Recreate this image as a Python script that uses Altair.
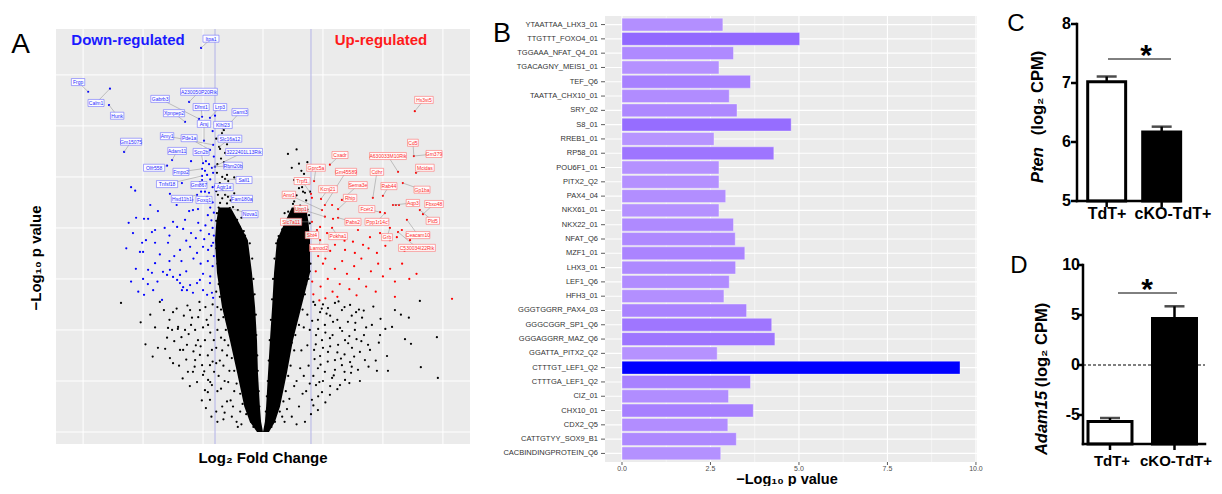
import altair as alt
import pandas as pd

FONT = "Liberation Sans, Arial, sans-serif"
NARROW = "Liberation Sans Narrow, Liberation Sans, Arial, sans-serif"
W, H = 1206, 478

# ================= Panel A : volcano plot =================
# dense core of the V (two arms): -log10 p levels and log2FC bounds
arm_p = [0.0, 2.0, 5.0, 11.6, 18.0, 24.5, 31.2, 37.6, 41.0, 44.0]
arm_left_a = [-0.25, -0.55, -0.78, -1.08, -1.38, -1.71, -1.92, -2.0, -1.95, -1.85]
arm_left_b = [0.0, -0.08, -0.13, -0.21, -0.25, -0.33, -0.46, -0.63, -1.0, -1.35]
arm_right_a = [0.0, 0.08, 0.13, 0.21, 0.29, 0.38, 0.46, 0.58, 0.9, 1.2]
arm_right_b = [0.25, 0.5, 0.71, 1.0, 1.25, 1.6, 1.96, 1.96, 1.9, 1.8]

A_thresholds = [-2.0, 2.0]
A_xgrid = [-7.5, -5.0, -2.5, 0.0, 2.5, 5.0, 7.5]
A_ygrid = [0, 10, 20, 30, 40, 50, 60, 70]

blue_pts = [(-2.58,75.3),(-7.29,66.7),(-6.38,67.3),(-6.42,64.1),(-5.79,54.9),(-5.5,48.0),(-5.33,47.3),
    (-3.38,48.8),(-3.25,60.8),(-3.08,64.7),(-2.67,61.4),(-2.54,61.8),(-2.46,57.1),(-2.21,61.6),(-2.08,56.3),
    (-2.21,55.3),(-2.54,51.6),(-3.0,53.1),(-2.38,53.1),(-2.25,52.5),(-2.13,51.8),(-4.0,52.2),(-3.79,53.3),
    (-2.5,52.7),(-3.88,46.7),(-2.42,51.2),(-2.33,50.4),(-2.08,50.8),(-2.63,49.0),(-2.54,50.2),(-2.54,49.4),
    (-2.25,46.9),(-2.42,47.1),(-2.58,47.1),(-2.75,46.5),(-2.33,46.1),(-2.0,52.0),(-2.0,48.2),
    (-5.29,42.0),(-4.96,41.8),(-4.79,41.8),(-4.38,43.3),(-3.08,43.3),(-2.92,43.5),(-2.71,43.7),(-5.42,39.0),
    (-4.88,37.6),(-5.04,37.1),(-4.63,39.2),(-4.5,39.6),(-3.75,41.2),(-3.58,40.2),(-3.25,41.6),(-3.33,39.8),
    (-5.0,35.3),(-4.79,31.8),(-4.63,31.2),(-4.5,33.1),(-4.96,26.9),(-4.58,27.8),(-4.21,25.9),(-4.17,31.4),
    (-4.0,30.8),(-3.88,31.8),(-3.75,30.4),(-3.58,29.8),(-3.46,30.8),(-3.46,29.2),(-3.33,28.4),(-3.38,27.8),
    (-3.17,27.8),(-3.04,28.8),(-2.92,27.3),(-2.75,29.2),(-2.63,29.8),(-2.5,27.8),(-2.33,26.9),(-2.21,29.2),
    (-2.13,27.3),(-2.08,26.3),(-5.13,35.3),(-4.5,37.1),(-3.96,37.1),(-3.46,35.7),(-3.04,36.3),(-2.75,35.1),
    (-2.5,36.3),(-2.29,35.7),(-2.08,37.1),(-2.1,45.0),(-2.2,44.0),(-2.05,43.0),(-2.3,42.5),(-2.15,41.5),
    (-2.4,40.5),(-2.1,40.0),(-2.6,39.5),(-2.25,38.8),(-2.05,38.5),(-2.8,38.0),(-2.45,37.8),(-3.0,39.0),
    (-3.2,37.5),(-2.9,34.0),(-2.6,33.0),(-2.3,33.5),(-2.1,32.5),(-3.4,33.5),(-3.7,34.5),(-3.9,33.5),
    (-4.3,34.8),(-4.4,29.5),(-3.2,31.5),(-2.5,31.0),(-2.2,30.5),(-2.05,34.5),(-2.15,36.5),(-2.7,41.0),
    (-2.95,45.5),(-2.35,46.0),(-2.1,48.0),(-2.5,48.5),(-2.2,49.5),(-3.6,44.5),(-4.1,40.0),(-3.9,38.5),
    (-5.7,36.0),(-5.6,41.0),(-4.7,44.5),(-2.05,54.0),(-2.3,55.0),(-2.1,59.0),(-2.0,62.0),(-5.3,32.0),
    (-5.5,29.5),(-4.8,29.0),(-5.2,27.5),(-5.0,30.0)]

red_pts = [(2.79,52.4),(2.13,49.2),(6.29,54.1),(5.63,51.0),(6.38,50.8),(5.83,48.8),(5.0,46.3),(4.58,45.9),
    (2.04,45.9),(2.42,45.7),(3.29,45.5),(5.42,44.5),(5.54,44.5),(5.67,44.5),(6.67,42.7),(3.13,43.7),
    (2.46,43.5),(2.88,44.5),(4.38,43.9),(2.58,42.2),(2.92,41.8),(5.21,41.4),(6.0,41.6),(2.04,41.2),
    (2.25,39.6),(2.88,40.0),(2.38,40.2),(2.67,39.0),(3.5,40.8),(3.96,39.6),(4.46,38.2),(4.17,36.7),
    (4.88,39.0),(5.29,37.6),(5.79,39.6),(6.13,37.6),(2.38,37.6),(3.0,36.7),(3.42,35.7),(3.83,35.1),
    (4.75,35.1),(5.58,38.2),(3.75,37.3),(3.08,38.2),(6.33,62.9),(2.58,44.5),(2.0,46.7),(4.88,43.1),
    (3.13,42.0),(5.08,42.9),(6.54,43.5),(5.29,40.0),(5.63,39.2),
    (2.1,36.0),(2.3,34.5),(2.5,33.0),(2.2,31.5),(2.7,30.0),(2.4,28.5),(2.9,27.5),(2.1,27.0),(3.2,29.0),
    (3.5,31.0),(3.3,33.5),(3.8,32.5),(4.0,30.0),(3.6,28.0),(4.3,28.5),(4.5,31.5),(4.1,34.0),(4.8,33.0),
    (5.0,30.5),(5.3,32.0),(4.7,27.5),(5.5,29.5),(5.8,33.0),(5.9,35.5),(6.1,30.0),(3.1,26.5),(2.6,26.2),
    (3.9,26.8),(4.4,36.0),(5.1,36.5),(2.8,35.5),(3.4,37.5),(2.2,38.5),(2.6,34.0),(3.0,32.0),(2.05,29.5),
    (7.88,26.1),(6.4,31.0),(5.5,26.5),(2.35,25.8)]

black_pts = [(-5.92,25.3),(-4.38,16.5),(-4.08,16.3),(-3.88,14.5),(-3.75,13.5),(-3.46,16.1),(-3.33,16.1),
    (-4.13,23.9),(-3.75,23.5),(-3.96,20.4),(-3.79,20.0),(-3.54,20.6),(-3.04,23.9),(-2.96,22.4),(-2.83,20.0),
    (-2.71,18.0),(-2.63,15.1),(-2.92,11.8),(-2.5,11.2),(-2.42,8.2),(-2.29,10.2),(-2.21,6.3),(-2.38,4.7),
    (-2.13,9.2),(-3.25,20.0),(-3.17,17.1),(-2.42,18.0),(-2.29,21.0),(-2.17,22.9),(-2.63,23.9),(-2.13,16.1),
    (-2.21,13.1),(-2.54,13.1),(-2.83,14.1),(-3.13,11.8),(-2.04,11.8),
    (-2.1,25.0),(-2.4,24.5),(-2.7,22.5),(-3.0,21.0),(-3.3,22.8),(-3.6,24.2),(-3.9,22.0),(-4.3,25.5),
    (-2.2,19.5),(-2.5,20.5),(-2.8,17.0),(-3.1,19.2),(-3.4,18.6),(-3.7,17.8),(-4.0,18.5),(-4.5,20.5),
    (-2.3,15.0),(-2.6,16.8),(-2.9,15.8),(-3.2,14.2),(-3.5,13.0),(-2.1,13.8),(-2.45,11.9),(-2.75,9.8),
    (-3.05,9.0),(-2.3,7.8),(-2.55,6.2),(-2.15,3.0),(-2.85,12.8),(-3.35,10.5),(-4.6,14.8),(-4.9,17.2),
    (-5.1,21.5),(-4.7,23.0),(-2.05,18.0),(-2.35,22.0),(-2.65,25.5),(-3.15,24.8),(-3.55,20.2),(-2.2,9.8),
    (-1.9,20.0),(-1.8,14.0),(-1.6,10.0),(-1.5,6.0),(-1.7,5.0),(-1.3,3.0),(-1.2,8.0),(-1.5,15.0),(-1.9,8.0),
    (-1.95,4.0),(-1.6,18.0),(-1.75,24.0),(-1.1,2.0),(-0.9,1.5),(-1.4,12.0),(-1.65,2.5),(-1.85,11.0),
    (-1.95,27.5),(-1.9,24.5),(-1.85,22.0),(-1.75,18.5),(-1.95,16.5),(-1.7,16.0),(-1.65,13.0),(-1.95,13.5),
    (-1.45,9.8),(-1.75,8.5),(-1.35,6.2),(-1.6,3.8),(-1.9,2.0),(-0.95,4.0),(-1.25,5.0),(-1.05,1.0),
    (-1.95,36.0),(-1.9,33.0),(-1.85,29.0),(-1.8,26.5),(-1.65,22.5),(-1.55,20.0),(-1.45,17.0),(-1.3,14.5),
    (-1.2,12.0),(-1.1,9.5),(-0.95,7.5),(-0.85,5.5),(-0.7,3.5),(-0.5,2.0),(-0.4,1.0),
    (-0.55,37.0),(-0.45,34.0),(-0.4,30.0),(-0.35,27.0),(-0.3,23.0),(-0.28,19.0),(-0.24,15.0),(-0.22,12.0),
    (-0.18,8.0),(-0.15,5.0),
    (-1.63,59.2),(-1.58,49.6),(-1.38,43.9),(-1.79,55.5),(-1.58,54.7),(-1.63,52.9),(-1.5,50.4),(-1.92,50.8),
    (-1.33,48.2),(-1.67,47.5),(-1.88,46.5),(-1.46,46.1),(-1.79,44.9),(-1.25,44.1),(-1.58,43.1),(-1.92,42.9),
    (-1.38,42.2),(-1.71,41.6),(-1.08,41.6),(-1.5,40.6),(-1.88,40.2),(-1.25,40.0),(-0.96,40.2),(-1.71,58.6),
    (-1.83,55.9),(-1.58,46.5),(-0.75,38.5),(-1.1,39.0),(-0.85,36.5),
    (-1.9,38.0),(-1.6,38.2),(-1.3,38.6),(-1.0,37.8),(-1.75,39.3),(-1.45,39.6),(-1.15,40.9),(-1.95,41.4),
    (-1.6,42.4),(-1.3,43.0),(-1.05,43.5),(-1.85,44.0),(-1.5,44.8),(-1.7,45.8),(-1.35,45.4),(-1.95,47.2),
    (-1.55,47.6),(-1.2,46.8),(-1.8,48.8),(-1.45,49.2),(-1.7,50.0),(-1.9,52.5),(-1.4,51.8),(-1.75,53.6),
    (-1.5,56.4),(-1.95,57.5),(-1.2,49.9),(-0.9,42.0),(-0.8,39.4),
    (1.04,54.5),(1.71,50.6),(1.67,47.1),(1.25,44.7),(1.58,42.9),(1.13,41.6),(1.75,41.0),(1.42,39.2),
    (0.83,37.6),(0.63,36.1),(1.04,36.7),(1.6,51.2),(1.63,48.0),(1.96,47.1),(1.3,45.2),(1.92,42.5),
    (1.5,43.8),(1.33,40.6),(1.79,40.2),(1.0,39.0),(1.5,38.5),(0.75,38.3),(1.13,37.1),(1.67,37.3),
    (0.7,36.8),(0.9,39.8),
    (0.65,38.4),(0.95,38.2),(1.25,38.6),(1.6,38.2),(1.9,38.8),(0.8,39.7),(1.15,39.4),(1.7,39.6),
    (0.95,40.8),(1.45,40.4),(1.95,40.9),(1.2,41.0),(1.65,42.0),(1.35,42.6),(1.85,43.6),(1.05,43.2),
    (1.55,44.4),(1.8,45.4),(1.4,46.4),(1.15,46.2),(1.75,46.9),(1.5,47.8),(1.9,48.8),(1.3,49.4),
    (1.75,49.5),(1.5,52.6),(1.2,51.8),(1.85,52.9),(1.4,55.4),(0.9,42.9),
    (0.55,37.0),(0.48,34.0),(0.42,30.0),(0.38,26.0),(0.33,22.0),(0.28,18.0),(0.24,14.0),(0.2,10.0),
    (0.16,7.0),(0.12,4.0),
    (2.0,36.0),(1.98,33.0),(1.9,30.0),(1.75,27.0),(1.65,24.0),(1.5,21.0),(1.35,19.0),(1.3,16.0),
    (1.15,13.0),(1.05,11.0),(0.95,8.0),(0.85,6.0),(0.7,4.0),(0.5,2.0),(0.35,1.0),
    (1.2,3.0),(1.5,5.0),(1.8,8.0),(1.4,10.0),(1.9,13.0),(1.6,16.0),(1.95,20.0),(1.75,2.0),(2.0,3.5),
    (1.1,6.5),(0.9,2.0),(1.7,11.0),(1.85,23.0),
    (1.0,15.5),(1.2,17.5),(1.45,23.5),(1.6,26.5),(1.8,29.0),(1.95,31.5),(1.85,34.5),(1.7,20.5),
    (1.85,17.0),(1.55,12.5),(1.3,9.0),(1.65,7.5),(1.95,9.5),(1.0,4.5),(1.4,1.5),(0.8,3.0),
    (2.17,24.9),(2.38,23.5),(2.71,24.3),(3.0,25.3),(3.29,23.9),(3.63,24.9),(3.88,23.5),(4.13,22.4),
    (2.29,22.0),(2.58,21.0),(2.92,21.6),(3.21,20.4),(3.54,21.6),(3.83,20.0),(4.21,19.0),(2.21,19.0),
    (2.46,18.0),(2.79,18.4),(3.13,17.1),(3.42,18.0),(3.71,16.5),(4.04,15.7),(4.38,17.1),(2.13,16.1),
    (2.38,14.9),(2.71,15.7),(3.0,14.1),(3.29,13.1),(3.63,13.7),(3.96,12.2),(2.29,12.5),(2.58,11.8),
    (2.88,10.6),(3.21,9.2),(2.21,9.2),(2.46,7.8),(2.79,7.3),(3.42,10.2),(2.04,6.3),(2.29,4.3),
    (4.25,14.1),(4.54,21.0),(4.46,16.1),(4.88,19.0),
    (2.1,25.5),(2.5,25.0),(2.8,22.8),(3.1,22.0),(3.4,24.5),(3.7,22.8),(4.0,24.0),(2.3,20.2),(2.6,19.5),
    (2.9,19.0),(3.3,19.8),(3.6,18.8),(3.9,18.2),(4.3,20.5),(2.2,17.2),(2.5,16.5),(2.8,16.8),(3.1,15.6),
    (3.4,15.2),(3.8,14.8),(4.1,17.8),(2.4,13.2),(2.7,13.8),(3.0,12.2),(3.4,11.8),(3.7,12.8),(2.1,11.0),
    (2.5,10.0),(2.8,9.0),(3.1,8.4),(2.3,7.0),(2.6,5.8),(2.1,5.2),(3.6,9.6),(4.4,12.8),(4.7,14.0),
    (4.2,23.8),(4.6,24.6),(4.9,22.2),(5.1,20.2),(2.05,21.8),(2.15,14.3),(2.35,9.8),(2.95,11.1),
    (3.25,14.4),(3.55,17.4),(3.85,21.4),(2.65,23.2),(3.15,25.6),(2.45,24.2),
    (6.54,25.7),(7.25,18.6),(6.58,12.7),(7.29,10.6),(6.08,22.4),(5.92,18.2),(6.17,17.3),(5.17,14.9),
    (4.83,17.5),(5.21,12.0),(4.75,12.0),(5.75,23.0),(5.5,23.9),(5.38,20.6),(4.04,10.0),(3.67,11.6)]

blue_labels = ["Itpa1","Frgp","Calm1","Hunk","Gm15075","Gabrb3","A230050P20Rik","Dfmt1","Lrp3","Gamt3",
    "Xpnpep2","Arsj","Klhl23","Amy1","Pde1a","Slc16a12","Adam11","Scn2b","3222401L13Rik","Olfr558",
    "Rbm20b","Fmpo2","Sall1","Tnfsf18","Gm867","Agtr1a","Hsd11b1","Foxq1","Fam180a","Nova1"]
blue_lab_fc = [-2.17,-7.71,-6.96,-6.08,-5.5,-4.29,-2.67,-2.58,-1.79,-0.96,-3.71,-2.46,-1.67,-4.0,-3.08,
    -1.38,-3.58,-2.58,-0.79,-4.54,-1.25,-3.42,-0.79,-4.0,-2.67,-1.63,-3.38,-2.46,-0.88,-0.54]
blue_lab_p = [77.1,68.6,64.5,62.0,56.9,65.3,66.7,63.7,63.7,62.7,62.5,60.4,60.2,58.0,57.6,57.5,55.1,54.9,
    54.9,51.8,52.2,51.0,49.4,48.6,48.4,48.0,45.7,45.5,45.7,42.7]
blue_gene_fc = [-2.58,-7.29,-6.38,-6.42,-5.79,-2.67,-3.08,-2.54,-2.21,-1.63,-3.25,-2.46,-1.71,-2.08,-2.21,
    -1.83,-3.79,-2.5,-2.13,-4.0,-2.0,-2.54,-1.58,-2.54,-2.54,-2.0,-2.75,-2.33,-1.58,-1.38]
blue_gene_p = [75.3,66.7,67.3,64.1,54.9,61.4,64.7,61.8,61.6,59.2,60.8,57.1,58.6,56.3,55.3,55.9,53.3,52.7,
    51.8,52.2,52.0,51.6,49.6,50.2,49.4,48.2,46.5,46.1,46.5,43.9]

red_labels = ["Hs3st5","Cd5","Gm379","A630033M10Rik","Cxadr","Gprc5a","Gm45589","Cdhr","Mcidas","Trpf1",
    "Sema3e","Kcnj21","Rab44","Gp1ba","Amr1","Rhip","Aqp3","Fbxo48","Upp1","Fcer2","Pabs2","Ppp1r14c",
    "Pld5","Slc7a11","Sbt4","Pokha1","Grb","Ceacam10","Lamod2","C530034I22Rik"]
red_lab_fc = [6.71,6.25,7.13,5.21,3.21,2.21,3.46,4.75,6.75,1.63,3.96,2.71,5.25,6.63,1.08,3.63,6.25,7.13,
    1.58,4.33,3.75,4.75,7.08,1.17,2.04,3.13,5.17,6.46,2.33,6.42]
red_lab_p = [65.1,56.7,54.5,54.1,54.3,51.8,51.0,51.0,51.8,49.2,48.4,47.6,48.2,47.5,46.5,45.9,44.9,44.7,
    43.7,43.7,41.2,41.2,41.4,41.2,38.6,38.4,38.2,38.6,36.1,36.1]
red_gene_fc = [6.33,6.29,6.29,5.63,2.79,2.13,2.58,4.58,6.38,2.0,3.29,2.42,5.0,5.83,2.46,3.13,5.42,6.67,
    2.58,4.88,3.13,5.08,6.54,2.04,2.25,2.88,5.29,6.0,2.38,5.63]
red_gene_p = [62.9,54.1,54.1,51.0,52.4,49.2,44.5,45.9,50.8,46.7,45.5,45.7,46.3,48.8,43.5,43.7,44.5,42.7,
    42.2,43.1,42.0,42.9,43.5,41.2,39.6,40.0,40.0,41.6,37.6,39.2]

# ================= Panel B : TF motif enrichment =================
tf_names = ["YTAATTAA_LHX3_01","TTGTTT_FOXO4_01","TGGAAA_NFAT_Q4_01","TGACAGNY_MEIS1_01","TEF_Q6",
    "TAATTA_CHX10_01","SRY_02","S8_01","RREB1_01","RP58_01","POU6F1_01","PITX2_Q2","PAX4_04","NKX61_01",
    "NKX22_01","NFAT_Q6","MZF1_01","LHX3_01","LEF1_Q6","HFH3_01","GGGTGGRR_PAX4_03","GGGCGGR_SP1_Q6",
    "GGGAGGRR_MAZ_Q6","GGATTA_PITX2_Q2","CTTTGT_LEF1_Q2","CTTTGA_LEF1_Q2","CIZ_01","CHX10_01","CDX2_Q5",
    "CATTGTYY_SOX9_B1","CACBINDINGPROTEIN_Q6"]
tf_logp = [2.85,5.02,3.15,2.74,3.63,3.03,3.25,4.78,2.60,4.29,2.74,2.74,2.93,2.74,3.15,3.20,3.47,3.21,
    3.03,2.88,3.52,4.23,4.32,2.69,9.55,3.63,3.01,3.71,2.99,3.23,2.79]
b_ticks = [0.0, 2.5, 5.0, 7.5, 10.0]
b_tick_labels = ["0.0", "2.5", "5.0", "7.5", "10.0"]
b_minor = [1.25, 3.75, 6.25, 8.75]

# ================= Panels C, D : bar charts =================
groups = ["TdT+", "cKO-TdT+"]
pten_mean = [7.02, 6.17]
pten_sem = [0.09, 0.09]
adam15_mean = [-5.64, 4.65]
adam15_sem = [0.34, 1.22]
c_ticks = [5, 6, 7, 8]
d_ticks = [-5, 0, 5, 10]

# ---------------------------------------------------------------
one = pd.DataFrame({"k": [0]})


def pv(v):
    return alt.value(v - 8)


def text(s, x, y, size, color="black", weight="normal", style="normal", angle=0,
         align="center", baseline="alphabetic", font=FONT):
    kw = dict(text=s, fontSize=size, color=color, fontWeight=weight, fontStyle=style,
              align=align, baseline=baseline, font=font)
    if angle:
        kw["angle"] = angle
    return alt.Chart(one).mark_text(**kw).encode(x=pv(x), y=pv(y))


def prect(x, y, x2, y2, color):
    return alt.Chart(one).mark_rect(color=color).encode(x=pv(x), y=pv(y), x2=pv(x2), y2=pv(y2))


def prule(x, y, x2, y2, color="black", width=1.0):
    return alt.Chart(one).mark_rule(color=color, strokeWidth=width).encode(
        x=pv(x), y=pv(y), x2=pv(x2), y2=pv(y2))


# ---------------- Panel A ----------------
XA = alt.Scale(domain=[-8.63, 8.63], range=[48, 462], nice=False, zero=False)
YA = alt.Scale(domain=[-2.35, 79.0], range=[436, 21], nice=False, zero=False)


def ax(f):
    return alt.X(f, type="quantitative", scale=XA, axis=None)


def ay(f):
    return alt.Y(f, type="quantitative", scale=YA, axis=None)


A = [prect(56, 29, 470, 444, "#ebebeb")]
A.append(alt.Chart(pd.DataFrame({"v": A_xgrid})).mark_rule(color="white", strokeWidth=1).encode(
    x=ax("v"), y=alt.value(21), y2=alt.value(436)))
A.append(alt.Chart(pd.DataFrame({"v": A_ygrid})).mark_rule(color="white", strokeWidth=1).encode(
    y=ay("v"), x=alt.value(48), x2=alt.value(462)))
A.append(alt.Chart(pd.DataFrame({"v": A_thresholds})).mark_rule(color="#bcbce8", strokeWidth=1.2).encode(
    x=ax("v"), y=alt.value(21), y2=alt.value(436)))

arm = pd.DataFrame({"p": arm_p, "la": arm_left_a, "lb": arm_left_b, "ra": arm_right_a, "rb": arm_right_b})
A.append(alt.Chart(arm).mark_area(orient="horizontal", color="black").encode(y=ay("p"), x=ax("la"), x2="lb:Q"))
A.append(alt.Chart(arm).mark_area(orient="horizontal", color="black").encode(y=ay("p"), x=ax("ra"), x2="rb:Q"))


def pts(lst, color):
    df = pd.DataFrame(lst, columns=["fc", "p"])
    return alt.Chart(df).mark_circle(size=5, color=color, opacity=1).encode(x=ax("fc"), y=ay("p"))


A += [pts(black_pts, "black"), pts(blue_pts, "#0000ff"), pts(red_pts, "#ff0000")]


def labels(names, lx, ly, gx, gy, edge, tcol):
    df = pd.DataFrame({"lab": names, "lx": lx, "ly": ly, "gx": gx, "gy": gy})
    base = alt.Chart(df)
    lead = base.mark_rule(color="#8c8c8c", strokeWidth=0.5).encode(
        x=ax("lx"), y=ay("ly"), x2="gx:Q", y2="gy:Q")
    box = base.transform_calculate(
        bx1="datum.lx - (length(datum.lab)*2.6 + 3)/48",
        bx2="datum.lx + (length(datum.lab)*2.6 + 3)/48",
        by1="datum.ly - 0.69",
        by2="datum.ly + 0.69",
    ).mark_rect(fill="white", fillOpacity=0.9, stroke=edge, strokeWidth=0.6).encode(
        x=ax("bx1"), x2="bx2:Q", y=ay("by1"), y2="by2:Q")
    txt = base.mark_text(fontSize=5, color=tcol, font=FONT).encode(x=ax("lx"), y=ay("ly"), text="lab:N")
    return [lead, box, txt]


A += labels(blue_labels, blue_lab_fc, blue_lab_p, blue_gene_fc, blue_gene_p, "#6f6fff", "#2a2aff")
A += labels(red_labels, red_lab_fc, red_lab_p, red_gene_fc, red_gene_p, "#ff7070", "#ff2a2a")

A.append(text("A", 20.5, 53, 28, font=FONT))
A.append(text("Down-regulated", 128, 45, 15, color="#1a1aff", weight="bold", font=NARROW))
A.append(text("Up-regulated", 381, 45, 15, color="#ff1a1a", weight="bold", font=NARROW))
A.append(text("Log\u2082 Fold Change", 263, 463, 15, weight="bold", font=NARROW))
A.append(text("\u2212Log\u2081\u2080 p value", 36, 258, 15, weight="bold", angle=270,
              baseline="middle", font=NARROW))
panelA = alt.layer(*A)

# ---------------- Panel B ----------------
XB = alt.Scale(domain=[-0.48, 10.03], range=[597, 969], nice=False, zero=False)
YB = alt.Scale(range=[8, 454], paddingInner=0.1, paddingOuter=0.15)


def bx(f):
    return alt.X(f, type="quantitative", scale=XB, axis=None)


def byy():
    return alt.Y("name:N", sort=tf_names, scale=YB, axis=None)


dfB = pd.DataFrame({"name": tf_names, "logp": tf_logp, "zero": [0.0] * len(tf_names)})
B = [prect(605, 16, 977, 462, "#ebebeb")]
B.append(alt.Chart(pd.DataFrame({"v": b_minor})).mark_rule(color="white", strokeWidth=0.5).encode(
    x=bx("v"), y=alt.value(8), y2=alt.value(454)))
B.append(alt.Chart(pd.DataFrame({"v": b_ticks})).mark_rule(color="white", strokeWidth=1.1).encode(
    x=bx("v"), y=alt.value(8), y2=alt.value(454)))
B.append(alt.Chart(dfB).mark_rule(color="white", strokeWidth=1.1).encode(
    y=byy(), x=alt.value(597), x2=alt.value(969)))
B.append(alt.Chart(dfB).mark_bar(stroke="white", strokeOpacity=0.45, strokeWidth=0.8).encode(
    y=byy(), x=bx("zero"), x2="logp:Q",
    color=alt.Color("logp:Q", scale=alt.Scale(domain=[min(tf_logp), max(tf_logp)],
                                              range=["#b794ff", "#0000ff"], interpolate="lab"),
                    legend=None)))
B.append(alt.Chart(dfB).mark_text(align="right", fontSize=7.5, color="#333333", font=FONT).encode(
    y=byy(), x=alt.value(590), text="name:N"))
B.append(alt.Chart(dfB).mark_rule(color="#333333", strokeWidth=0.8).encode(
    y=byy(), x=alt.value(593), x2=alt.value(597)))
dfBt = pd.DataFrame({"v": b_ticks, "l": b_tick_labels})
B.append(alt.Chart(dfBt).mark_rule(color="#333333", strokeWidth=0.8).encode(
    x=bx("v"), y=alt.value(454), y2=alt.value(457)))
B.append(alt.Chart(dfBt).mark_text(fontSize=7, color="#4d4d4d", baseline="top", font=FONT).encode(
    x=bx("v"), y=alt.value(457), text="l:N"))
B.append(text("B", 502, 42, 27, font=FONT))
B.append(text("\u2212Log\u2081\u2080 p value", 787, 484, 14.5, weight="bold", font=NARROW))
panelB = alt.layer(*B)


# ---------------- Panels C / D ----------------
def barpanel(means, sems, base, dom, yrange, xrange, pin, pout, ticks, axis_x, x_end, tick_lab_x, title_it,
             title_rest, t_x, t_it_y, t_rest_y, lab_y, lab_xs, lab_size, letter, letter_xy, sig, star_xy,
             dashed):
    YS = alt.Scale(domain=dom, range=yrange, nice=False, zero=False)
    XS = alt.Scale(domain=groups, range=xrange, paddingInner=pin, paddingOuter=pout)
    xg = alt.X("g:N", scale=XS, axis=None, sort=groups)
    df = pd.DataFrame({"g": groups, "m": means, "top": [m + s for m, s in zip(means, sems)],
                       "base": [base] * len(groups)})
    L = []
    if dashed:
        L.append(alt.Chart(pd.DataFrame({"v": [0.0]})).mark_rule(color="black", strokeWidth=1.1,
                                                                 strokeDash=[3, 2]).encode(
            y=alt.Y("v:Q", scale=YS, axis=None), x=alt.value(axis_x), x2=alt.value(x_end)))
    L.append(alt.Chart(df).mark_rule(color="black", strokeWidth=2.5).encode(
        x=xg, y=alt.Y("m:Q", scale=YS, axis=None), y2="top:Q"))
    L.append(alt.Chart(df).mark_tick(color="black", orient="horizontal", size=20, thickness=2.5).encode(
        x=xg, y=alt.Y("top:Q", scale=YS, axis=None)))
    L.append(alt.Chart(df).mark_bar(stroke="black", strokeWidth=3).encode(
        x=xg, y=alt.Y("m:Q", scale=YS, axis=None), y2="base:Q",
        color=alt.Color("g:N", scale=alt.Scale(domain=groups, range=["white", "black"]), legend=None)))
    ax_df = pd.DataFrame({"a": [dom[0]], "b": [ticks[-1]]})
    L.append(alt.Chart(ax_df).mark_rule(color="black", strokeWidth=2.5, strokeCap="square").encode(
        x=alt.value(axis_x), y=alt.Y("a:Q", scale=YS, axis=None), y2="b:Q"))
    L.append(alt.Chart(ax_df).mark_rule(color="black", strokeWidth=2.5, strokeCap="square").encode(
        y=alt.Y("a:Q", scale=YS, axis=None), x=alt.value(axis_x), x2=alt.value(x_end)))
    tdf = pd.DataFrame({"v": ticks, "l": [str(t) for t in ticks]})
    L.append(alt.Chart(tdf).mark_rule(color="black", strokeWidth=2.5).encode(
        y=alt.Y("v:Q", scale=YS, axis=None), x=alt.value(axis_x - 6), x2=alt.value(axis_x)))
    L.append(alt.Chart(tdf).mark_text(align="right", baseline="middle", fontSize=16, fontWeight="bold",
                                      font=FONT).encode(
        y=alt.Y("v:Q", scale=YS, axis=None), x=alt.value(tick_lab_x), text="l:N"))
    L.append(alt.Chart(df).mark_rule(color="black", strokeWidth=2.5).encode(
        x=xg, y=alt.value(yrange[0]), y2=alt.value(yrange[0] + 6)))
    for g, lx in zip(groups, lab_xs):
        L.append(text(g, lx, lab_y, lab_size, weight="bold"))
    L.append(text(title_it, t_x, t_it_y, 16.5, weight="bold", style="italic", angle=270, baseline="middle"))
    L.append(text(title_rest, t_x, t_rest_y, 16.5, weight="bold", angle=270, baseline="middle"))
    L.append(text(letter, letter_xy[0], letter_xy[1], 24))
    L.append(prule(sig[0], sig[2], sig[1], sig[2], "black", 1))
    L.append(text("*", star_xy[0], star_xy[1], 30, weight="bold"))
    return alt.layer(*L)


panelC = barpanel(pten_mean, pten_sem, 5, [5, 8], [193, 16], [1063.2, 1189.15], 0.31, 0.3, c_ticks,
                  1069, 1172, 1063, "Pten", "(log\u2082 CPM)", 1038, 165, 93, 219, [1107, 1173], 16,
                  "C", (1016, 31), (1108, 1171, 59), (1146, 65), False)
panelD = barpanel(adam15_mean, adam15_sem, -7.9, [-7.9, 10], [436, 257], [1060.65, 1207.84], 0.318, 0.3,
                  d_ticks, 1075, 1197, 1072, "Adam15", "(log\u2082 CPM)", 1042, 423, 345, 466, [1112, 1176],
                  15, "D", (1019, 273), (1118, 1177, 293), (1147, 299), True)

chart = alt.layer(panelA, panelB, panelC, panelD).resolve_scale(
    x="independent", y="independent", color="independent"
).properties(width=W, height=H, padding=0, autosize=alt.AutoSizeParams(type="none")).configure_view(
    stroke="transparent")

chart.save("out.html", embed_options={"renderer": "svg", "actions": False})
